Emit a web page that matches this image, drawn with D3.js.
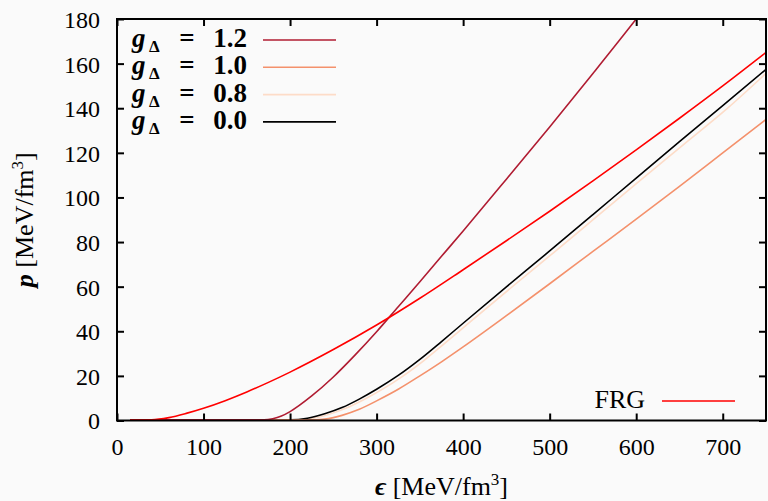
<!DOCTYPE html>
<html lang="en">
<head>
<meta charset="utf-8">
<title>EoS p vs epsilon</title>
<script src="https://cdn.jsdelivr.net/npm/d3@7"></script>
<style>
body { margin: 0; background: #fafafa; }
</style>
</head>
<body>
<script>
// width and height
var w = 768, h = 501;
var margin = {left: 117, right: 2, top: 19, bottom: 80};
var serif = "Liberation Serif";

// tick values
var xTicks = [0, 100, 200, 300, 400, 500, 600, 700];
var yTicks = [0, 20, 40, 60, 80, 100, 120, 140, 160, 180];

// curves: [epsilon, p]
var g12 = [[15,0.3],[170,0.3],[180,0.8],[190,2],[200,4],[225,11],[250,19.5],[275,29.3],[300,39.8],[325,51],[350,62.2],[375,73.6],[400,85],[450,108.2],[500,131.6],[550,155.6],[600,180],[620,190]];
var g10 = [[15,0.3],[230,0.3],[240,0.6],[250,1.3],[260,2.3],[280,5],[300,8.8],[325,14],[350,20],[375,26.3],[400,33],[450,47],[500,61.3],[550,75.8],[600,90.3],[650,105],[700,120],[750,135]];
var g08 = [[15,0.3],[205,0.3],[225,0.9],[245,2.8],[265,5.6],[285,9.3],[305,13.6],[330,19.8],[355,27],[380,35],[405,43.2],[455,59.4],[505,75.4],[555,91.6],[605,107.8],[655,123.8],[705,139.8],[750,155.6]];
var g00 = [[15,0.3],[200,0.3],[220,1],[240,3],[260,5.8],[280,9.6],[300,14],[325,20.2],[350,27.4],[375,35.4],[400,43.6],[450,59.9],[500,76],[550,92.3],[600,108.7],[650,125],[700,141.2],[750,157.4]];
var frg = [[15,0.2],[40,0.3],[60,1.3],[80,3.2],[100,5.5],[125,8.9],[150,12.8],[175,17.1],[200,21.7],[250,31.8],[300,42.8],[350,54.8],[400,67.6],[450,80.6],[500,93.8],[550,107.4],[600,121.3],[650,135.5],[700,150],[750,165]];

var labels = ["1.2", "1.0", "0.8", "0.0"];
var colors = ["#b01c32", "#f4916c", "#fddcc8", "#000000"];
var series = [g12, g10, g08, g00];

var svg = d3.select("body").append("svg")
  .attr("width", w).attr("height", h)
  .attr("font-family", serif);

svg.append("rect").attr("width", w).attr("height", h).attr("fill", "#fafafa");

var x = d3.scaleLinear().domain([0, 750]).range([margin.left, w - margin.right]);
var y = d3.scaleLinear().domain([0, 180]).range([h - margin.bottom - 0.5, margin.top]);

svg.append("clipPath").attr("id", "clip")
  .append("rect")
  .attr("x", x(0)).attr("y", y(180))
  .attr("width", x(750) - x(0)).attr("height", y(0) - y(180));

var line = d3.line()
  .x(function(d) { return x(d[0]); })
  .y(function(d) { return y(d[1]); })
  .curve(d3.curveMonotoneX);

var plot = svg.append("g").attr("clip-path", "url(#clip)");

// draw order: 0.8 under black
[2, 3, 1, 0].forEach(function(i) {
  plot.append("path")
    .datum(series[i])
    .attr("d", line)
    .attr("fill", "none")
    .attr("stroke", colors[i])
    .attr("stroke-width", 1.6);
});

plot.append("path")
  .datum(frg)
  .attr("d", line)
  .attr("fill", "none")
  .attr("stroke", "#ff0000")
  .attr("stroke-width", 1.6);

// axes, ticks inward and mirrored
var tl = 7;
function styleAxis(g) {
  g.select(".domain").remove();
  g.selectAll("line").attr("stroke-width", 2);
  g.attr("font-family", serif).attr("font-size", 24);
  g.selectAll("text").attr("font-family", serif).attr("font-size", 24).attr("fill", "#000");
}

svg.append("g")
  .attr("transform", "translate(0," + y(0) + ")")
  .call(d3.axisBottom(x).tickValues(xTicks).tickSize(-tl).tickPadding(13).tickFormat(d3.format("d")))
  .call(styleAxis)
  .call(function(g) { g.selectAll("text").attr("dy", "0.9em"); });

svg.append("g")
  .attr("transform", "translate(0," + y(180) + ")")
  .call(d3.axisTop(x).tickValues(xTicks).tickSize(-tl).tickFormat(""))
  .call(styleAxis);

svg.append("g")
  .attr("transform", "translate(" + x(0) + ",0)")
  .call(d3.axisLeft(y).tickValues(yTicks).tickSize(-tl).tickPadding(17))
  .call(styleAxis)
  .call(function(g) { g.selectAll("text").attr("dy", "0.35em"); });

svg.append("g")
  .attr("transform", "translate(" + x(750) + ",0)")
  .call(d3.axisRight(y).tickValues(yTicks).tickSize(-tl).tickFormat(""))
  .call(styleAxis);

svg.append("rect")
  .attr("x", x(0)).attr("y", y(180))
  .attr("width", x(750) - x(0)).attr("height", y(0) - y(180))
  .attr("fill", "none").attr("stroke", "#000").attr("stroke-width", 2);

// axis titles
function unitTitle(t, sym) {
  t.append("tspan").attr("font-weight", "bold").attr("font-style", "italic").text(sym);
  t.append("tspan").text(" [MeV/fm");
  t.append("tspan").attr("dy", -10).attr("font-size", 17).text("3");
  t.append("tspan").attr("dy", 10).text("]");
}

unitTitle(svg.append("text")
  .attr("x", (x(0) + x(750)) / 2).attr("y", 495)
  .attr("text-anchor", "middle").attr("font-size", 26), "ϵ");

unitTitle(svg.append("text")
  .attr("transform", "translate(33," + ((y(0) + y(180)) / 2) + ") rotate(-90)")
  .attr("text-anchor", "middle").attr("font-size", 26), "p");

// legend
var leg = svg.append("g").attr("font-weight", "bold");
labels.forEach(function(l, i) {
  var ly = 40 + i * 27.3;
  leg.append("text").attr("x", 132).attr("y", ly + 7)
    .attr("font-size", 27).attr("font-style", "italic").text("g");
  leg.append("text").attr("x", 149).attr("y", ly + 12)
    .attr("font-size", 17).text("Δ");
  leg.append("text").attr("x", 187).attr("y", ly + 7)
    .attr("text-anchor", "middle").attr("font-size", 27).text("=");
  leg.append("text").attr("x", 247).attr("y", ly + 7)
    .attr("text-anchor", "end").attr("font-size", 27).text(l);
  leg.append("line")
    .attr("x1", 263).attr("x2", 336).attr("y1", ly).attr("y2", ly)
    .attr("stroke", colors[i]).attr("stroke-width", 1.6);
});

svg.append("text")
  .attr("x", 645).attr("y", 408).attr("text-anchor", "end")
  .attr("font-size", 26).text("FRG");
svg.append("line")
  .attr("x1", 662).attr("x2", 735).attr("y1", 401).attr("y2", 401)
  .attr("stroke", "#ff0000").attr("stroke-width", 1.6);
</script>
</body>
</html>
